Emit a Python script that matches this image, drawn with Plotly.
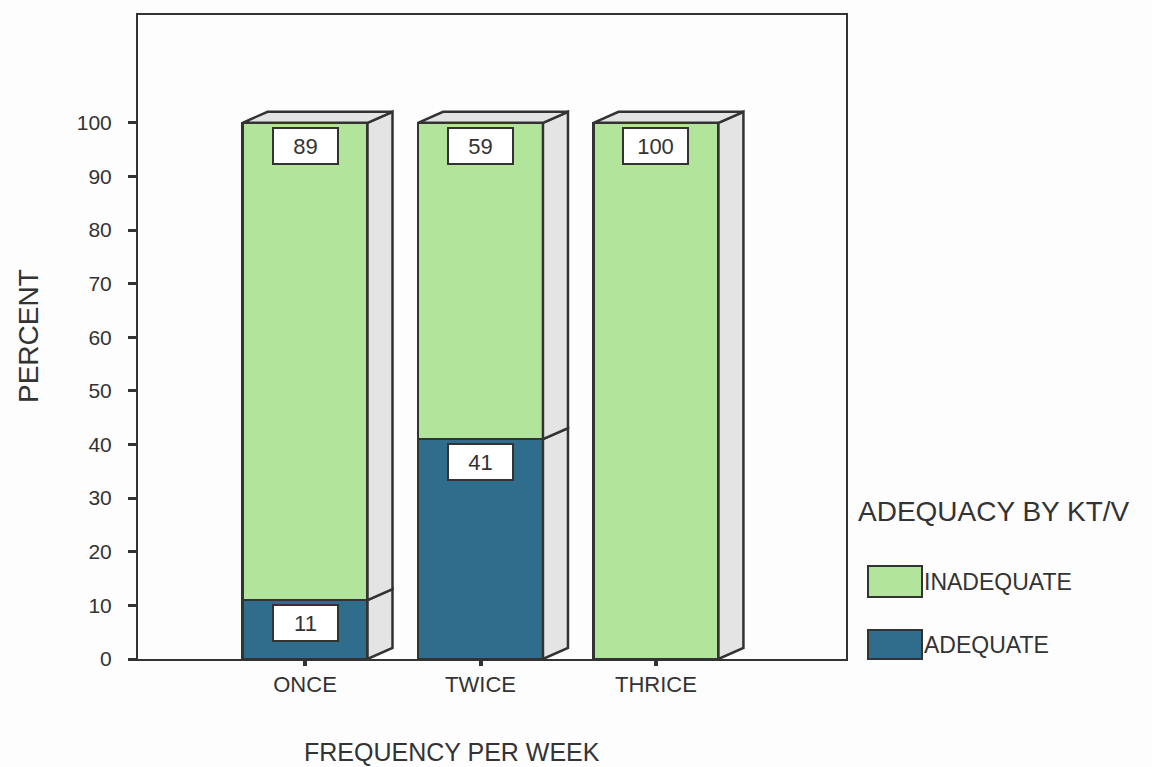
import plotly.graph_objects as go

# Data
categories = ["ONCE", "TWICE", "THRICE"]
adequate = [11, 41, 0]
inadequate = [89, 59, 100]
series_names = ["ADEQUATE", "INADEQUATE"]
y_ticks = [0, 10, 20, 30, 40, 50, 60, 70, 80, 90, 100]

# Styling
W, H = 1152, 767
ML, MR, MT, MB = 138, 306, 15, 108
PLOT_W = W - ML - MR
PLOT_H = H - MT - MB
X_RANGE = [-0.952, 3.083]
Y_RANGE = [0, 120.1]
BAR_W = 0.712
GREEN = "#b3e49b"
BLUE = "#306c8b"
SIDE = "#e4e4e4"
EDGE = "#333333"
FONT = "Liberation Sans, Arial, sans-serif"
TXT = "#333333"

# 3D depth offset, in pixels, converted to data units
px_per_x = PLOT_W / (X_RANGE[1] - X_RANGE[0])
px_per_y = PLOT_H / (Y_RANGE[1] - Y_RANGE[0])
DX = 25 / px_per_x
DY = 11 / px_per_y


def paper_x(px):
    return (px - ML) / PLOT_W


def paper_y(py):
    return (H - MB - py) / PLOT_H


xs = list(range(len(categories)))
fig = go.Figure()
fig.add_trace(go.Bar(x=xs, y=adequate, width=BAR_W, name=series_names[0],
                     marker=dict(color=BLUE, line=dict(color=EDGE, width=2.5)),
                     showlegend=False))
fig.add_trace(go.Bar(x=xs, y=inadequate, width=BAR_W, name=series_names[1],
                     marker=dict(color=GREEN, line=dict(color=EDGE, width=2.5)),
                     showlegend=False))

shapes = []
annotations = []
for i, (a, b) in enumerate(zip(adequate, inadequate)):
    xl, xr = i - BAR_W / 2, i + BAR_W / 2
    total = a + b
    # side faces, one per stacked segment
    for lo, hi in [(0, a), (a, total)]:
        if hi <= lo:
            continue
        shapes.append(dict(
            type="path", xref="x", yref="y", layer="above",
            path=f"M {xr},{lo} L {xr + DX},{lo + DY} L {xr + DX},{hi + DY} L {xr},{hi} Z",
            fillcolor=SIDE, line=dict(color=EDGE, width=2.5)))
    # top face
    shapes.append(dict(
        type="path", xref="x", yref="y", layer="above",
        path=f"M {xl},{total} L {xr},{total} L {xr + DX},{total + DY} L {xl + DX},{total + DY} Z",
        fillcolor=SIDE, line=dict(color=EDGE, width=2.5)))
    # value boxes
    for val, top in [(a, a), (b, total)]:
        if val <= 0:
            continue
        annotations.append(dict(
            x=i, y=top, xref="x", yref="y", yanchor="top", yshift=-4,
            text=str(val), showarrow=False, align="center",
            width=61, height=32, bgcolor="white", bordercolor=EDGE, borderwidth=2,
            font=dict(family=FONT, size=22, color=TXT)))

# axis titles
annotations.append(dict(x=paper_x(452), y=paper_y(752), xref="paper", yref="paper",
                        text="FREQUENCY PER WEEK", showarrow=False,
                        xanchor="center", yanchor="middle",
                        font=dict(family=FONT, size=25, color=TXT)))
annotations.append(dict(x=paper_x(28), y=paper_y(336), xref="paper", yref="paper",
                        text="PERCENT", showarrow=False, textangle=-90,
                        xanchor="center", yanchor="middle",
                        font=dict(family=FONT, size=28, color=TXT)))

# legend
annotations.append(dict(x=paper_x(856), y=paper_y(511), xref="paper", yref="paper",
                        text="ADEQUACY BY KT/V", showarrow=False,
                        xanchor="left", yanchor="middle",
                        font=dict(family=FONT, size=28, color=TXT)))
legend_items = [(series_names[1], GREEN, 566, 597), (series_names[0], BLUE, 630, 659)]
for name, color, top, bot in legend_items:
    shapes.append(dict(type="rect", xref="paper", yref="paper",
                       x0=paper_x(868), x1=paper_x(922), y0=paper_y(bot), y1=paper_y(top),
                       fillcolor=color, line=dict(color=EDGE, width=2)))
    annotations.append(dict(x=paper_x(922), y=paper_y((top + bot) / 2), xref="paper", yref="paper",
                            text=name, showarrow=False, xanchor="left", yanchor="middle",
                            font=dict(family=FONT, size=23, color=TXT)))

fig.update_layout(
    width=W, height=H,
    margin=dict(l=ML, r=MR, t=MT, b=MB, pad=0),
    barmode="stack",
    paper_bgcolor="#fdfdfd", plot_bgcolor="#fdfdfd",
    shapes=shapes, annotations=annotations,
    font=dict(family=FONT, color=TXT),
    xaxis=dict(range=X_RANGE, tickvals=xs, ticktext=categories,
               ticks="outside", ticklen=5, tickwidth=4, tickcolor=EDGE,
               showline=True, linecolor=EDGE, linewidth=2, mirror=True,
               showgrid=False, zeroline=False,
               tickfont=dict(family=FONT, size=22, color=TXT)),
    yaxis=dict(range=Y_RANGE, tickvals=y_ticks,
               ticks="outside", ticklen=8, tickwidth=3, tickcolor=EDGE,
               showline=True, linecolor=EDGE, linewidth=2, mirror=True,
               showgrid=False, zeroline=False, ticklabelstandoff=12,
               tickfont=dict(family=FONT, size=21, color=TXT)),
)

fig.write_html("out.html")
